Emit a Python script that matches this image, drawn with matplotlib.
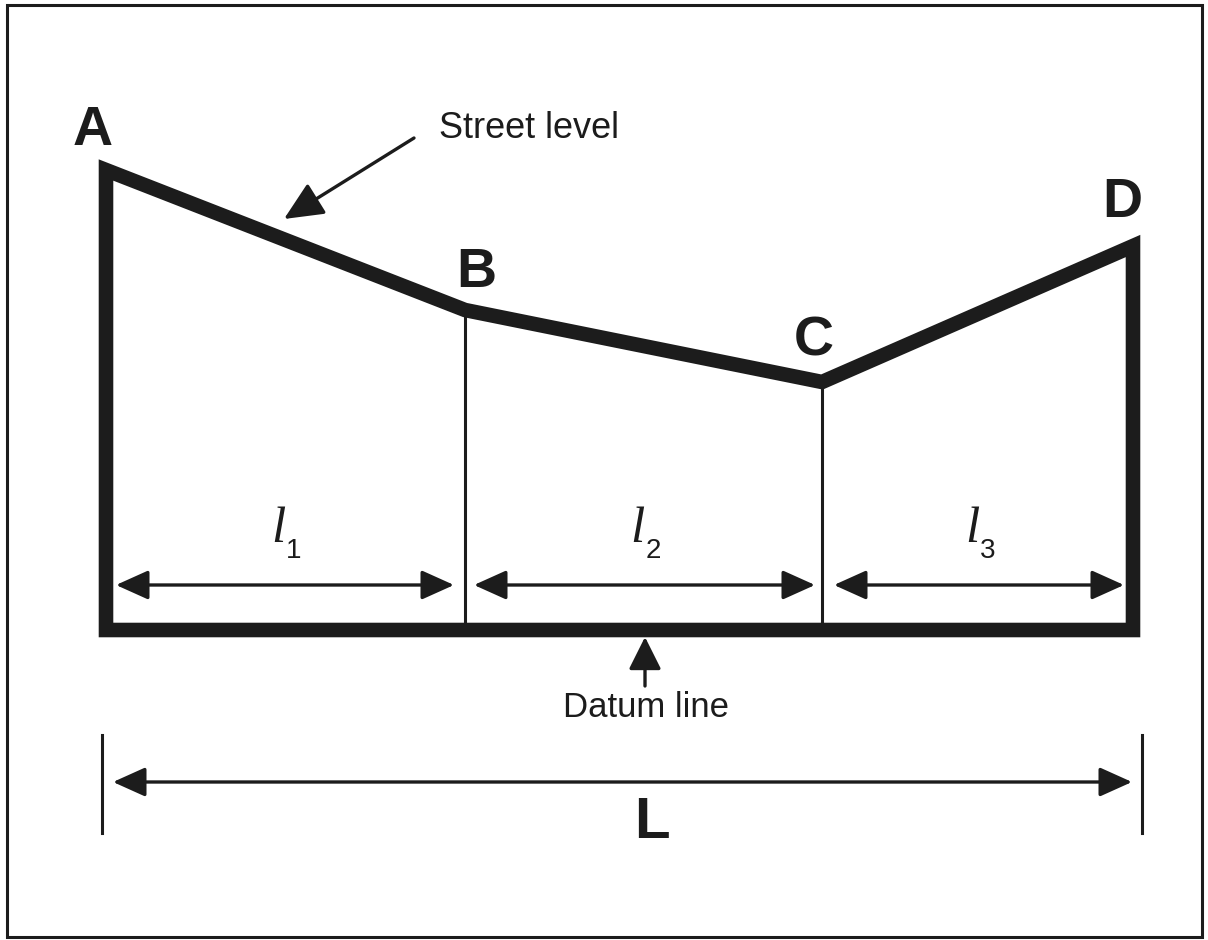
"""
Street level profile above a datum line (A-B-C-D), drawn in pixel units.
"""

import matplotlib.pyplot as plt
from matplotlib.patches import Rectangle, Polygon

# ── Data ───────────────────────────────────────────────────────────────────────
point_names = ["A", "B", "C", "D"]
point_x     = [106, 465, 822, 1133]
point_y     = [170, 310, 382, 246]
datum_y     = 630

segment_names = ["1", "2", "3"]
dim_y         = 585
dim_starts    = [116, 474, 834]
dim_ends      = [454, 815, 1124]

total_y     = 782
total_start = 113
total_end   = 1132
tick_x      = [102, 1142]

INK = "#1c1c1c"
SANS = "Liberation Sans"

# ── Figure ─────────────────────────────────────────────────────────────────────
fig = plt.figure(figsize=(12.08, 9.4), dpi=100)
ax = fig.add_axes([0, 0, 1, 1])
ax.set_xlim(0, 1208)
ax.set_ylim(940, 0)
ax.axis("off")

# outer frame
ax.add_patch(Rectangle((7, 5), 1195, 932, fill=False, edgecolor=INK, lw=2.2))

# street profile + datum closed outline
outline = [(point_x[0], datum_y)] + list(zip(point_x, point_y)) + [(point_x[-1], datum_y)]
ax.add_patch(Polygon(outline, closed=True, fill=False, edgecolor=INK, lw=10.5,
                     joinstyle="miter"))

# thin verticals at B and C
for x, y in zip(point_x[1:3], point_y[1:3]):
    ax.plot([x, x], [y, datum_y], color=INK, lw=2.2)

# point labels (offset from the corner they name)
label_off = {"A": (-13, -25), "B": (11, -23), "C": (-8, -26), "D": (-11, -29)}
for name, x, y in zip(point_names, point_x, point_y):
    dx, dy = label_off[name]
    ax.text(x + dx, y + dy, name, fontsize=40, fontweight="bold", family=SANS,
            color=INK, ha="center", va="baseline")

arrow_kw = dict(arrowstyle="<|-|>,head_length=1.0,head_width=0.45", color=INK,
                lw=2.4, mutation_scale=20, shrinkA=0, shrinkB=0)

# segment dimension arrows
for name, x0, x1 in zip(segment_names, dim_starts, dim_ends):
    ax.annotate("", xy=(x1, dim_y), xytext=(x0, dim_y), arrowprops=arrow_kw)
    cx = (x0 + x1) / 2
    ax.text(cx - 7, 542, "l", fontsize=37, style="italic", family="Liberation Serif",
            color=INK, ha="center", va="baseline")
    ax.text(cx + 9, 558, name, fontsize=20, family=SANS, color=INK,
            ha="center", va="baseline")

# total length L
ax.annotate("", xy=(total_end, total_y), xytext=(total_start, total_y), arrowprops=arrow_kw)
for x in tick_x:
    ax.plot([x, x], [735, 833], color=INK, lw=2.2)
ax.text(652, 838, "L", fontsize=42, fontweight="bold",
        family=SANS, color=INK, ha="center", va="baseline")

# street level callout
ax.annotate("", xy=(284, 219), xytext=(414, 138),
            arrowprops=dict(arrowstyle="-|>,head_length=1.2,head_width=0.55", color=INK,
                            lw=2.4, mutation_scale=20, shrinkA=0, shrinkB=0))
ax.text(439, 138, "Street level", fontsize=26, family=SANS, color=INK,
        ha="left", va="baseline")

# datum line callout
ax.annotate("", xy=(645, 637), xytext=(645, 686),
            arrowprops=dict(arrowstyle="-|>,head_length=1.0,head_width=0.5", color=INK,
                            lw=2.4, mutation_scale=20, shrinkA=0, shrinkB=0))
ax.text(646, 717, "Datum line", fontsize=25, family=SANS, color=INK,
        ha="center", va="baseline")

fig.savefig("out.png", dpi=100)
